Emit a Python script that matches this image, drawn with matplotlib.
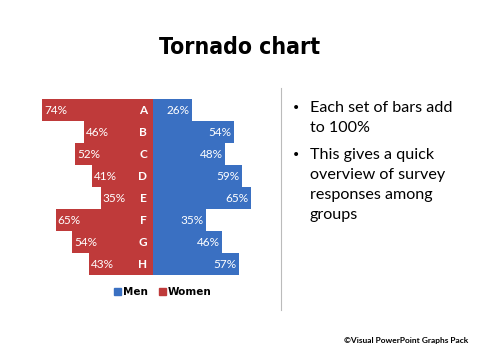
import matplotlib.pyplot as plt
from matplotlib.patches import Patch

# datos del grafico
categorias = ['A', 'B', 'C', 'D', 'E', 'F', 'G', 'H']
mujeres = [74, 46, 52, 41, 35, 65, 54, 43]
hombres = [26, 54, 48, 59, 65, 35, 46, 57]

rojo = '#BF3A3A'
azul = '#3A70C2'

fig = plt.figure(figsize=(4.8, 3.6), dpi=100)
fig.patch.set_facecolor('white')

# eje de barras
ax = fig.add_axes([30/480, (360-275)/360, 246/480, 176/360])
y = list(range(len(categorias)))
ax.barh(y, [-m for m in mujeres], height=0.96, color=rojo, edgecolor='none')
ax.barh(y, hombres, height=0.96, color=azul, edgecolor='none')
ax.set_xlim(-82, 82)
ax.set_ylim(len(categorias) - 0.5, -0.5)
ax.axis('off')

for i in y:
    ax.text(-mujeres[i] + 1.5, i, f'{mujeres[i]}%', color='white', va='center', ha='left',
            fontsize=8.5, family='Lato')
    ax.text(-4, i, categorias[i], color='white', va='center', ha='right',
            fontsize=8.5, fontweight='bold', family='Lato')
    ax.text(hombres[i] - 1.5, i, f'{hombres[i]}%', color='white', va='center', ha='right',
            fontsize=8.5, family='Lato')

# leyenda
handles = [Patch(color=azul, label='Men'), Patch(color=rojo, label='Women')]
fig.legend(handles=handles, loc='center', bbox_to_anchor=(163/480, (360-292)/360), ncol=2,
           frameon=False, prop={'size': 7.5, 'weight': 'bold', 'family': 'DejaVu Sans'},
           handlelength=0.7, handleheight=0.7, handletextpad=0.2, columnspacing=1.0)

# titulo
fig.text(240/480, (360-47)/360, 'Tornado chart', ha='center', va='center', fontsize=16.5,
         fontweight='bold', family='DejaVu Sans', fontstretch='condensed')

# linea separadora
fig.add_artist(plt.Line2D([281/480, 281/480], [(360-310)/360, (360-88)/360], color='#BBBBBB', lw=0.8))

# texto con vinetas
bullets = [(108, 'Each set of bars add'), (128, 'to 100%'), (155, 'This gives a quick'),
           (175, 'overview of survey'), (195, 'responses among'), (215, 'groups')]
for yy, t in bullets:
    fig.text(310/480, (360-yy)/360, t, ha='left', va='center', fontsize=11.6, family='Lato')
for yy in [108, 155]:
    fig.text(296/480, (360-yy)/360, '\u2022', ha='center', va='center', fontsize=10, family='DejaVu Sans')

# pie
fig.text(468/480, (360-341)/360, '\u00a9Visual PowerPoint Graphs Pack', ha='right', va='center',
         fontsize=6.0, fontweight='bold', family='Lato')

fig.savefig('out.png', dpi=100, facecolor='white')
